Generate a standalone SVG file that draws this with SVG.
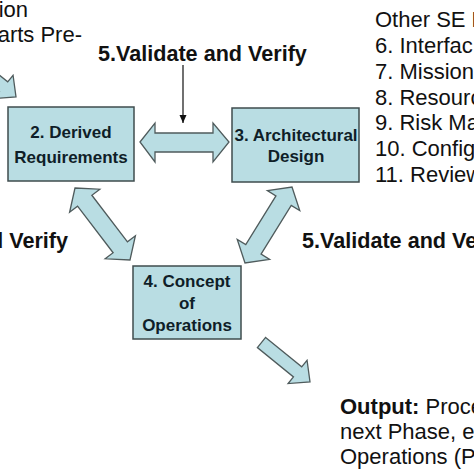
<svg xmlns="http://www.w3.org/2000/svg" width="474" height="474" viewBox="0 0 474 474">
<style>
.bg{fill:#ffffff}
.box{fill:#b9dde3;stroke:#3f4c4e;stroke-width:1.5}
.arr{fill:#b9dde3;stroke:#4f5b5c;stroke-width:1.3;stroke-linejoin:miter}
.bt{font-family:"Liberation Sans",Arial,sans-serif;font-weight:bold;font-size:17px;fill:#0f1e28;text-anchor:middle}
.t{font-family:"Liberation Sans",Arial,sans-serif;font-size:22px;fill:#111111}
.vb{font-family:"Liberation Sans",Arial,sans-serif;font-weight:bold;font-size:21.6px;fill:#111111}
.ln{stroke:#111111;stroke-width:1.2;fill:none}
</style>
<defs>
<marker id="ah" markerWidth="10" markerHeight="10" refX="9" refY="5" orient="auto" markerUnits="userSpaceOnUse">
<path d="M1,1.5 L9,5 L1,8.5 Z" fill="#111111"/>
</marker>
</defs>
<rect class="bg" x="0" y="0" width="474" height="474"/>
<g id="text-left">
<text class="t" x="28" y="17" text-anchor="end">ion</text>
<text class="t" x="82" y="42" text-anchor="end">arts Pre-</text>
<text class="vb" x="68" y="248" text-anchor="end">d Verify</text>
</g>
<g id="text-right">
<text class="t" x="375" y="27">Other SE P</text>
<text class="t" x="375" y="53">6. Interfac</text>
<text class="t" x="375" y="79">7. Mission</text>
<text class="t" x="375" y="105">8. Resourc</text>
<text class="t" x="375" y="130">9. Risk Ma</text>
<text class="t" x="375" y="156">10. Config</text>
<text class="t" x="375" y="182">11. Review</text>
</g>
<g id="label-top"><text class="vb" x="98" y="61">5.Validate and Verify</text></g>
<g id="label-right"><text class="vb" x="302" y="248">5.Validate and Ve</text></g>
<g id="output">
<text class="t" x="340" y="414"><tspan font-weight="bold">Output:</tspan> Proce</text>
<text class="t" x="340" y="439">next Phase, e</text>
<text class="t" x="340" y="464">Operations (P</text>
</g>
<g id="connectors">
<polygon class="arr" points="-31.57,66.65 -0.53,91.93 -5.9,98.53 16,97 13.06,75.25 7.69,81.85 -23.35,56.57"/>
<polygon class="arr" points="140,142 155,123 155,133 213,133 213,123 229,142 213,162 213,152 155,152 155,162"/>
<polygon class="arr" points="75,188 99.81,189.19 91.87,195.26 127.45,241.82 135.39,235.75 130,260 105.19,258.81 113.13,252.74 77.55,206.18 69.61,212.25"/>
<polygon class="arr" points="292,187 299.74,210.6 291.23,205.34 261.07,254.12 269.58,259.38 245,263 237.26,239.4 245.77,244.66 275.93,195.88 267.42,190.62"/>
<polygon class="arr" points="265.61,337.46 301.69,366.85 307.06,360.25 310,382 288.1,383.53 293.47,376.93 257.39,347.54"/>
<line class="ln" x1="183" y1="65" x2="183" y2="123" marker-end="url(#ah)"/>
</g>
<g id="node-2">
<rect class="box" x="8" y="107" width="126" height="74"/>
<text class="bt" x="71" y="138">2. Derived</text>
<text class="bt" x="71" y="163">Requirements</text>
</g>
<g id="node-3">
<rect class="box" x="232" y="108" width="127" height="74"/>
<text class="bt" x="296" y="141">3. Architectural</text>
<text class="bt" x="296" y="162">Design</text>
</g>
<g id="node-4">
<rect class="box" x="133" y="266" width="108" height="73"/>
<text class="bt" x="187" y="287">4. Concept</text>
<text class="bt" x="187" y="309">of</text>
<text class="bt" x="187" y="331">Operations</text>
</g>
</svg>
